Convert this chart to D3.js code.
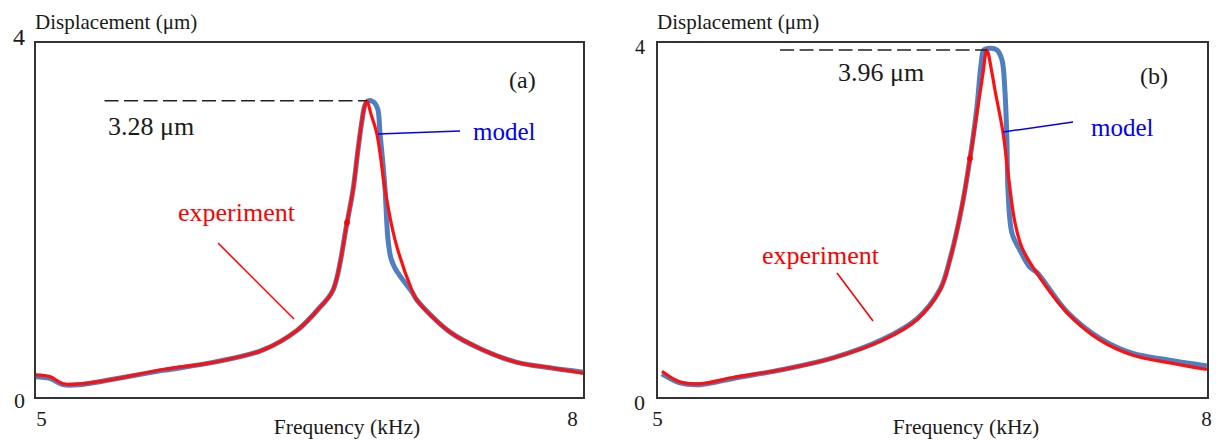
<!DOCTYPE html>
<html>
<head>
<meta charset="utf-8">
<script src="https://cdn.jsdelivr.net/npm/d3@7"></script>
<style>
  body { margin: 0; background: #fff; }
  svg, text { font-family: "Liberation Serif", "DejaVu Serif", serif; }
  text { fill: #1a1a1a; }
</style>
</head>
<body>
<svg id="chart" width="1217" height="440"></svg>
<script>
// ---- data (frequency in kHz, displacement in um) ----
const expFreqA  = [5.005,5.082,5.153,5.246,5.426,5.699,5.973,6.246,6.432,6.557,6.628,6.705,6.738,6.765,6.787,6.803,6.814,6.836,6.869,6.913,6.967,7.060,7.087,7.268,7.448,7.634,7.814,7.995];
const expDispA  = [0.26,0.24,0.16,0.16,0.21,0.32,0.40,0.54,0.76,1.02,1.21,1.97,2.34,2.79,3.12,3.29,3.34,3.19,2.96,2.34,1.78,1.21,1.10,0.74,0.54,0.40,0.34,0.28];
const modelFreqA = [5.005,5.082,5.153,5.246,5.426,5.699,5.973,6.246,6.432,6.557,6.628,6.705,6.738,6.765,6.787,6.803,6.822,6.847,6.858,6.874,6.885,6.902,6.913,6.929,6.945,6.967,6.995,7.060,7.087,7.268,7.448,7.634,7.814,7.995];
const modelDispA = [0.24,0.22,0.15,0.15,0.21,0.31,0.40,0.54,0.76,1.02,1.21,1.97,2.34,2.79,3.12,3.29,3.34,3.33,3.31,3.24,2.98,2.62,2.34,1.78,1.57,1.46,1.37,1.19,1.10,0.74,0.54,0.40,0.34,0.29];

const expFreqB  = [5.027,5.125,5.234,5.414,5.686,5.958,6.230,6.415,6.541,6.595,6.660,6.704,6.747,6.775,6.796,6.824,6.840,6.884,6.911,6.949,6.987,7.069,7.232,7.412,7.591,7.776,7.994];
const expDispB  = [0.30,0.18,0.16,0.23,0.32,0.45,0.65,0.88,1.21,1.55,2.15,2.69,3.27,3.65,3.91,3.65,3.46,2.98,2.53,1.97,1.69,1.40,0.96,0.65,0.48,0.40,0.32];
const modelFreqB = [5.027,5.125,5.234,5.414,5.686,5.958,6.230,6.415,6.541,6.595,6.660,6.704,6.742,6.764,6.780,6.813,6.851,6.878,6.894,6.905,6.911,6.933,6.976,7.030,7.069,7.232,7.412,7.591,7.776,7.994];
const modelDispB = [0.27,0.17,0.15,0.22,0.32,0.45,0.66,0.89,1.22,1.56,2.15,2.69,3.27,3.74,3.91,3.93,3.91,3.80,3.46,2.90,2.34,1.85,1.66,1.47,1.41,0.97,0.67,0.50,0.43,0.36];

const freqDomain = [5, 8];
const dispDomain = [0, 4];
const xTicks = [5, 8];
const yTicks = [0, 4];
const peakLabels = ["3.28 \u03bcm", "3.96 \u03bcm"];
const panelTags = ["(a)", "(b)"];
const dashStart = [5.38, 5.67];          // where the peak guide line starts (kHz)
const markerFreq = [6.705, 6.704];       // small dot on the measured curve
const yTitle = "Displacement (\u03bcm)";
const xTitle = "Frequency (kHz)";

const zip = (xs, ys) => xs.map((x, i) => ({ x: x, y: ys[i] }));
const serif = '"Liberation Serif", "DejaVu Serif", serif';

class ResonancePanel {
    constructor(config, exp, model, idx) {
        this.config = config;
        this.exp = exp;
        this.model = model;
        this.idx = idx;
        this.init();
        this.render();
    }

    init() {
        let self = this;
        const c = self.config;
        self.g = d3.select('#chart').append('g');
        self.xscale = d3.scaleLinear().domain(freqDomain).range([c.left, c.right]);
        self.yscale = d3.scaleLinear().domain(dispDomain).range([c.bottom, c.top]);
    }

    text(x, y, size, str, color) {
        return this.g.append('text')
            .attr('x', x).attr('y', y)
            .style('font-family', serif)
            .style('font-size', size + 'px')
            .style('fill', color || '#1a1a1a')
            .text(str);
    }

    render() {
        let self = this;
        const c = self.config;
        const g = self.g;

        // frame
        g.append('rect')
            .attr('x', c.left).attr('y', c.top)
            .attr('width', c.right - c.left).attr('height', c.bottom - c.top)
            .attr('fill', 'none').attr('stroke', '#333').attr('stroke-width', 2);

        // y axis labels (no tick marks)
        const yaxis = g.append('g')
            .attr('transform', `translate(${c.left},0)`)
            .call(d3.axisLeft(self.yscale).tickValues(yTicks).tickFormat(d3.format('d'))
                .tickSize(0).tickPadding(c.yPad));
        yaxis.select('.domain').remove();
        yaxis.selectAll('text')
            .style('fill', '#1a1a1a')
            .style('font-family', serif)
            .style('font-size', d => d === 4 ? c.topTickSize + 'px' : '22px')
            .attr('dy', d => d === 4 ? c.topTickDy : c.zeroTickDy);

        // x axis labels
        const xaxis = g.append('g')
            .attr('transform', `translate(0,${c.bottom})`)
            .call(d3.axisBottom(self.xscale).tickValues(xTicks).tickFormat(d3.format('d')).tickSize(0));
        xaxis.select('.domain').remove();
        xaxis.selectAll('text')
            .style('fill', '#1a1a1a')
            .style('font-family', serif)
            .style('font-size', '21px')
            .attr('y', 28).attr('dy', 0)
            .attr('dx', d => d === 5 ? c.dx5 : c.dx8);

        // axis titles
        self.text(c.left, 29, 21, yTitle);
        self.text(c.xTitleX, 434, 21.5, xTitle).attr('text-anchor', 'middle');

        const line = d3.line()
            .x(d => self.xscale(d.x))
            .y(d => self.yscale(d.y))
            .curve(d3.curveCatmullRom.alpha(0.5));

        g.append('path')
            .attr('d', line(self.model))
            .attr('fill', 'none')
            .attr('stroke', '#4f7fc0')
            .attr('stroke-width', 5)
            .attr('stroke-linejoin', 'round');

        g.append('path')
            .attr('d', line(self.exp))
            .attr('fill', 'none')
            .attr('stroke', '#ff1010')
            .attr('stroke-width', 3.2)
            .attr('stroke-linejoin', 'round');

        // marker dot on measured curve
        const mf = markerFreq[self.idx];
        const mp = self.exp.find(d => d.x === mf);
        if (mp) {
            g.append('circle')
                .attr('cx', self.xscale(mp.x))
                .attr('cy', self.yscale(mp.y))
                .attr('r', 2.8)
                .attr('fill', '#ff0000');
        }

        // peak guide line
        const peak = self.exp.reduce((a, b) => (b.y > a.y ? b : a));
        g.append('line')
            .attr('x1', self.xscale(dashStart[self.idx]))
            .attr('x2', self.xscale(peak.x))
            .attr('y1', self.yscale(peak.y)).attr('y2', self.yscale(peak.y))
            .attr('stroke', '#222').attr('stroke-width', 1.5)
            .attr('stroke-dasharray', '14,5.5');

        self.text(c.peakLabelX, c.peakLabelY, 26, peakLabels[self.idx]);
        self.text(c.tagX, c.tagY, 24, panelTags[self.idx]);

        // model annotation
        g.append('line')
            .attr('x1', c.modelLine[0]).attr('y1', c.modelLine[1])
            .attr('x2', c.modelLine[2]).attr('y2', c.modelLine[3])
            .attr('stroke', '#0000ff').attr('stroke-width', 1.5);
        self.text(c.modelX, c.modelY, 25, 'model', '#0000ff');

        // experiment annotation
        g.append('line')
            .attr('x1', c.expLine[0]).attr('y1', c.expLine[1])
            .attr('x2', c.expLine[2]).attr('y2', c.expLine[3])
            .attr('stroke', '#ff0000').attr('stroke-width', 1.5);
        self.text(c.expX, c.expY, 26, 'experiment', '#ff0000');
    }
}

new ResonancePanel({
    left: 35, right: 584, top: 42, bottom: 398,
    yPad: 10, topTickSize: 24, topTickDy: '0.12em', zeroTickDy: '0.45em',
    dx5: 6, dx8: -12, xTitleX: 347,
    peakLabelX: 108, peakLabelY: 135,
    tagX: 509, tagY: 88,
    modelLine: [378, 134, 460, 131], modelX: 473, modelY: 140,
    expLine: [218, 243, 294, 319], expX: 178, expY: 221
}, zip(expFreqA, expDispA), zip(modelFreqA, modelDispA), 0);

new ResonancePanel({
    left: 657, right: 1208, top: 42, bottom: 398,
    yPad: 12, topTickSize: 20, topTickDy: '0.55em', zeroTickDy: '0.5em',
    dx5: 0, dx8: -2, xTitleX: 966,
    peakLabelX: 838, peakLabelY: 81,
    tagX: 1140, tagY: 84,
    modelLine: [1003, 132, 1073, 122], modelX: 1091, modelY: 136,
    expLine: [837, 273, 873, 321], expX: 762, expY: 264
}, zip(expFreqB, expDispB), zip(modelFreqB, modelDispB), 1);
</script>
</body>
</html>
